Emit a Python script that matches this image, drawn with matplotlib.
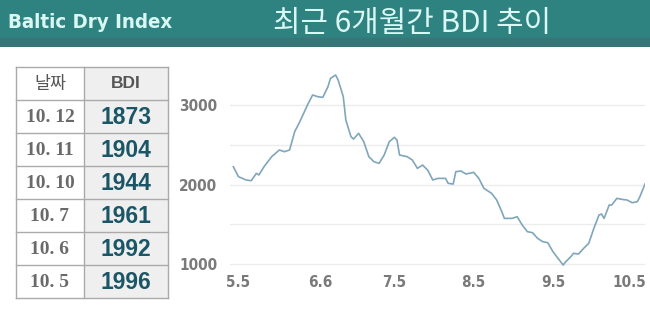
import matplotlib
matplotlib.use("Agg")
from matplotlib import pyplot as plt
from matplotlib.patches import Rectangle

# --- data ---
days = [-2, 0, 3, 5, 7, 8, 10, 13, 16, 18, 20, 22, 24, 27, 29, 31, 33, 35, 36, 38,
        39, 41, 42, 44, 45, 47, 49, 51, 53, 55, 57, 59, 61, 62, 63, 66, 68, 70, 72,
        74, 76, 78, 81, 82, 84, 85, 87, 89, 92, 94, 96, 99, 101, 103, 104, 107, 109,
        111, 113, 115, 117, 119, 121, 123, 125, 127, 128, 130, 131, 133, 135, 137,
        139, 141, 142, 143, 145, 146, 148, 150, 152, 154, 156, 157, 159]
bdi = [2224, 2099, 2057, 2048, 2140, 2120, 2224, 2350, 2434, 2413, 2434, 2665, 2790,
       3000, 3126, 3105, 3096, 3230, 3335, 3377, 3314, 3105, 2811, 2602, 2572, 2644,
       2539, 2350, 2287, 2266, 2371, 2539, 2593, 2560, 2371, 2350, 2308, 2203, 2245,
       2182, 2057, 2077, 2077, 2015, 2006, 2161, 2170, 2132, 2153, 2077, 1952, 1889,
       1805, 1658, 1574, 1574, 1595, 1490, 1407, 1394, 1323, 1281, 1268, 1155, 1071,
       987, 1029, 1092, 1134, 1126, 1197, 1260, 1449, 1616, 1629, 1574, 1742, 1742,
       1826, 1813, 1805, 1771, 1784, 1847, 2006]
tick_days = [0, 32, 61, 92, 123, 153]
tick_labels = ["5.5", "6.6", "7.5", "8.5", "9.5", "10.5"]

table_dates = ["10. 12", "10. 11", "10. 10", "10. 7", "10. 6", "10. 5"]
table_values = [1873, 1904, 1944, 1961, 1992, 1996]

W, H = 650, 315
fig = plt.figure(figsize=(6.5, 3.15), dpi=100)
fig.patch.set_facecolor("white")

# header band
hdr = fig.add_axes([0, 1 - 47 / H, 1, 47 / H])
hdr.set_xlim(0, W)
hdr.set_ylim(47, 0)
hdr.axis("off")
hdr.add_patch(Rectangle((0, 0), W, 47, color="#2e8280"))
hdr.add_patch(Rectangle((0, 38), W, 9, color="#367676"))
hdr.text(8, 23, "Baltic Dry Index", color="#d9f7f3", fontsize=14.7, fontweight="bold",
         family="DejaVu Sans", fontstretch="condensed", va="center", ha="left")
hdr.text(412, 23, "최근 6개월간 BDI 추이", color="#d9f7f3", fontsize=21.5,
         family=["Noto Sans CJK KR", "DejaVu Sans"], va="center", ha="center")

# table
tx0, ty0, tw, th = 16, 67, 152, 231
tab = fig.add_axes([tx0 / W, 1 - (ty0 + th) / H, tw / W, th / H])
tab.set_xlim(0, tw)
tab.set_ylim(th, 0)
tab.axis("off")
split = 68
row_h = th / 7
tab.add_patch(Rectangle((split, 0), tw - split, th, color="#efefef", lw=0))
for i in range(8):
    tab.plot([0, tw], [i * row_h, i * row_h], color="#aaaaaa", lw=1, clip_on=False)
for x in [0, split, tw]:
    tab.plot([x, x], [0, th], color="#aaaaaa", lw=1, clip_on=False)
tab.text(split / 2, row_h / 2, "날짜", color="#555555", fontsize=12.5,
         family=["Noto Sans CJK KR", "DejaVu Sans"], ha="center", va="center")
tab.text((split + tw) / 2, row_h / 2, "BDI", color="#555555", fontsize=12.5,
         fontweight="bold", family="Liberation Sans", ha="center", va="center")
for i, (d, v) in enumerate(zip(table_dates, table_values)):
    yc = (i + 1.5) * row_h
    tab.text(split / 2, yc + 1, d, color="#6a6a6a", fontsize=14, fontweight="bold",
             family="Liberation Serif", ha="center", va="center")
    tab.text((split + tw) / 2, yc + 1, str(v), color="#1b5666", fontsize=16.5,
             fontweight="bold", family="Liberation Sans", ha="center", va="center")

# line chart
ax = fig.add_axes([230 / W, 1 - 268 / H, 415 / W, 208 / H])
ax.plot(days, bdi, color="#7fa6bb", lw=1.2)
ax.set_xlim(-3.3, 159)
ax.set_ylim(950, 3566)
for g in [1000, 1500, 2000, 2500, 3000]:
    ax.axhline(g, color="#ececec", lw=1, zorder=0)
for s in ax.spines.values():
    s.set_visible(False)
ax.set_yticks([1000, 2000, 3000])
ax.set_xticks(tick_days)
ax.set_xticklabels(tick_labels)
ax.tick_params(length=0, colors="#7a7a7a", labelsize=11, pad=5)
ax.tick_params(axis="y", pad=9)
for lab in ax.get_xticklabels() + ax.get_yticklabels():
    lab.set_family("DejaVu Sans")
    lab.set_stretch("condensed")
    lab.set_fontweight("bold")

fig.savefig("out.png", dpi=100, facecolor="white")
